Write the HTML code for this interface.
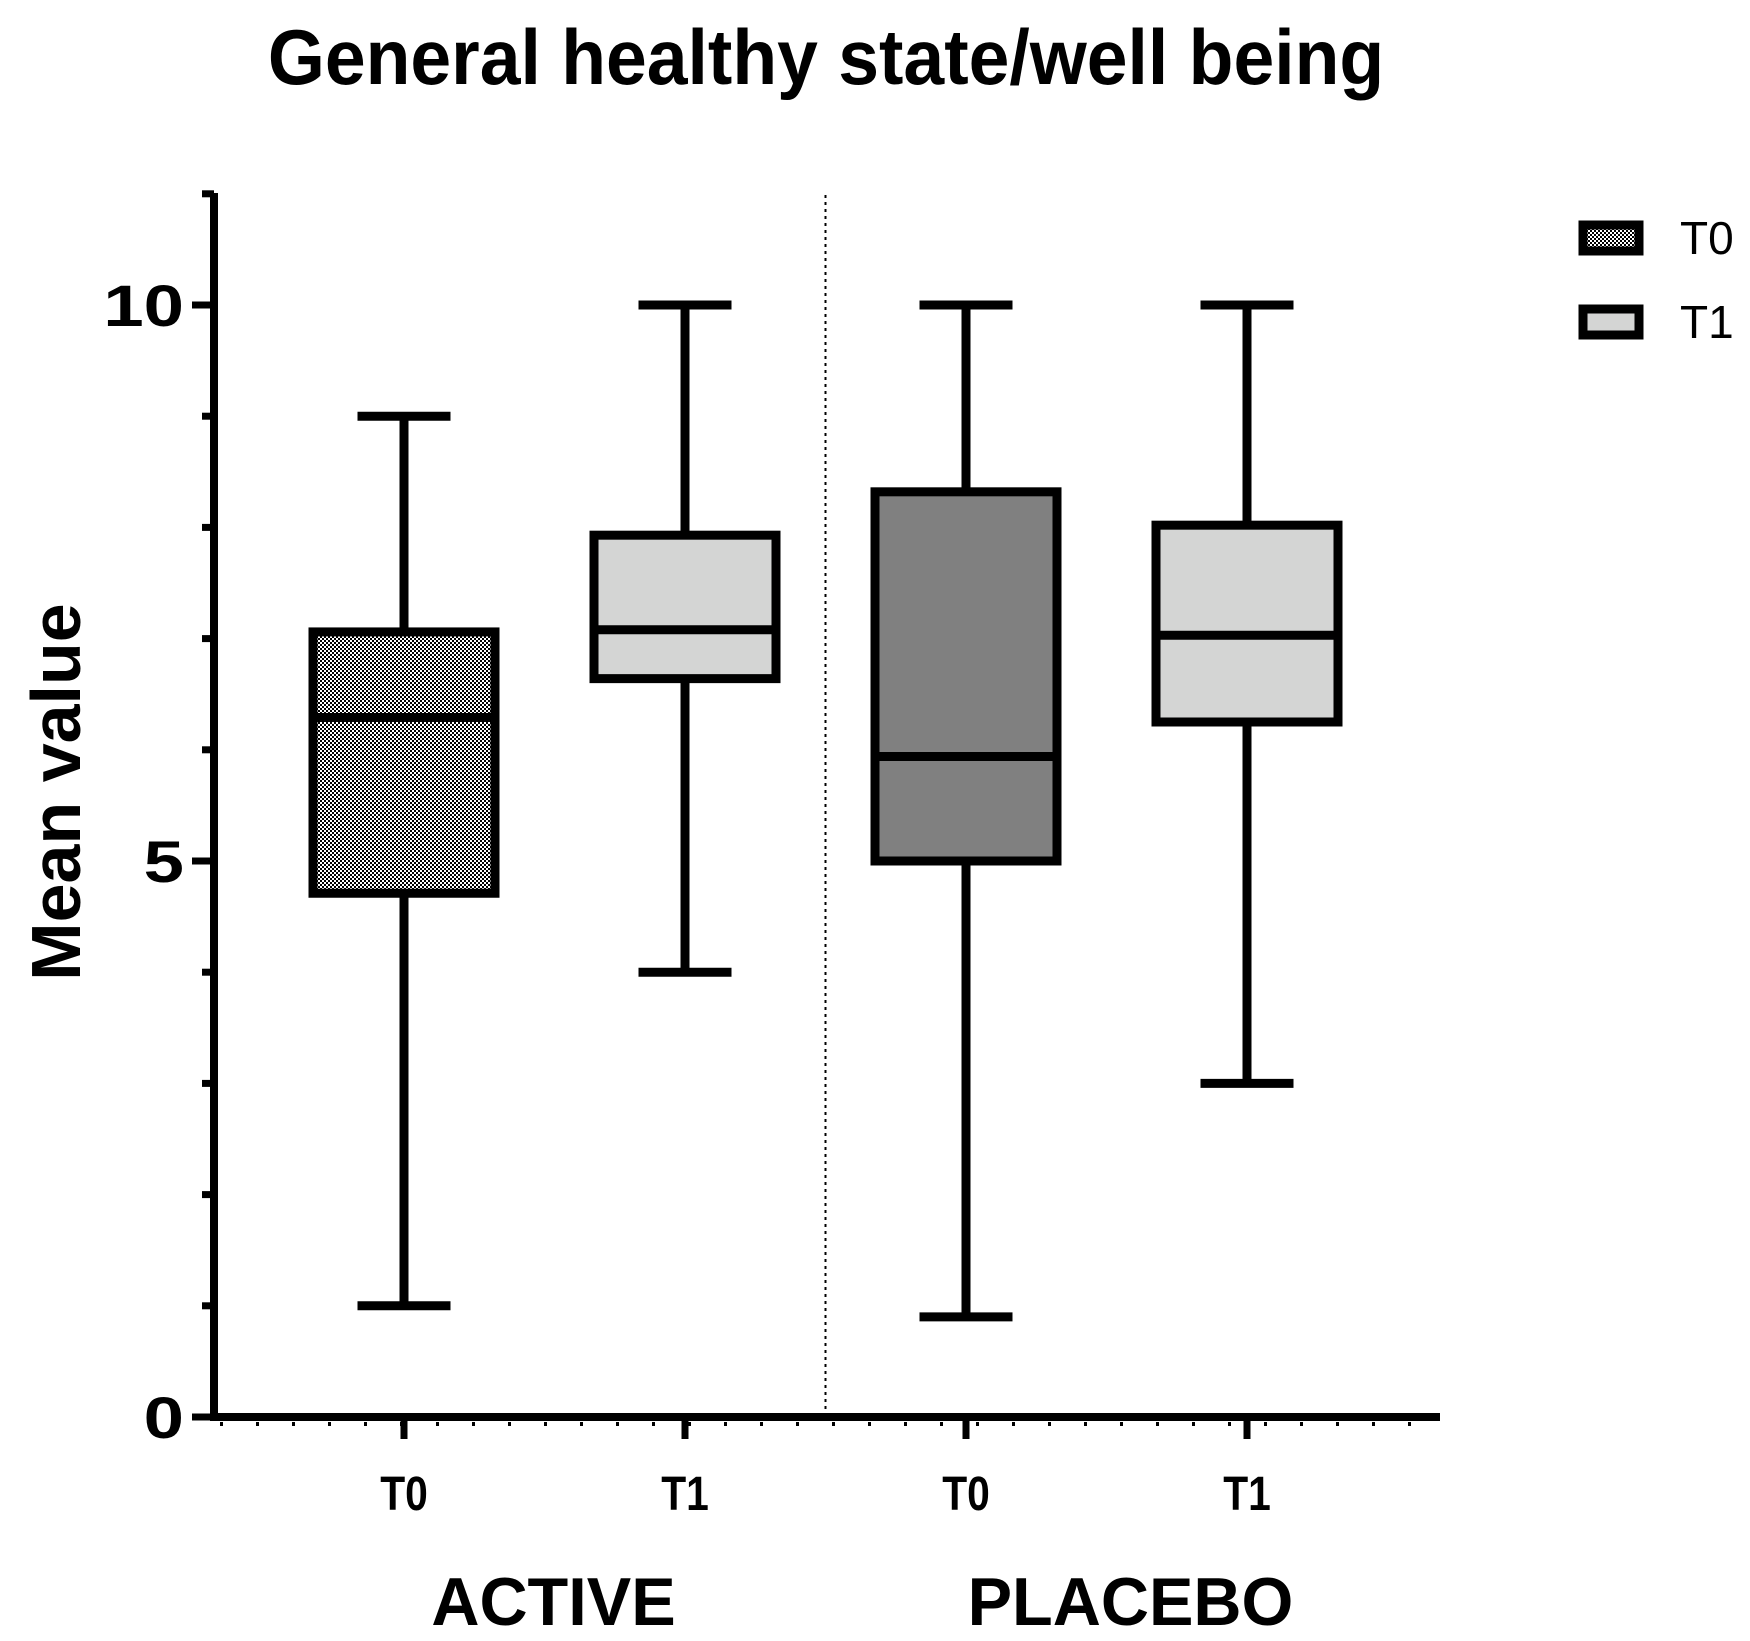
<!DOCTYPE html>
<html><head><meta charset="utf-8"><style>
html,body{margin:0;padding:0;background:#fff;}
svg{display:block;}
text{font-family:"Liberation Sans",Arial,sans-serif;fill:#000;}
</style></head><body>
<svg id="chart" width="1750" height="1641" viewBox="0 0 1750 1641" xmlns="http://www.w3.org/2000/svg">
<defs>
<pattern id="checker" width="4" height="4" patternUnits="userSpaceOnUse">
<rect width="4" height="4" fill="#fff"/><rect width="2" height="2" fill="#000"/><rect x="2" y="2" width="2" height="2" fill="#000"/>
</pattern>
</defs>
<text x="826" y="84" text-anchor="middle" font-size="78" font-weight="bold" transform="translate(826 0) scale(0.94 1) translate(-826 0)">General healthy state/well being</text>
<text transform="translate(80 792) rotate(-90) scale(1.0 1)" text-anchor="middle" font-size="70" font-weight="bold">Mean value</text>
<g id="plot"></g>
<g>
<rect x="1583" y="225" width="56" height="26" fill="url(#checker)" stroke="#000" stroke-width="9"/>
<text x="1680" y="254" font-size="46">T0</text>
<rect x="1583" y="309" width="56" height="26" fill="#d4d5d4" stroke="#000" stroke-width="9"/>
<text x="1680" y="338" font-size="46">T1</text>
</g>
</svg>
<script>
const categories = ["T0","T1","T0","T1"];
const groups = ["ACTIVE","PLACEBO"];
const mins = [1, 4, 0.9, 3];
const q1s = [4.71, 6.64, 5.0, 6.25];
const medians = [6.29, 7.08, 5.94, 7.03];
const q3s = [7.06, 7.93, 8.32, 8.02];
const maxs = [9, 10, 10, 10];
const fills = ["url(#checker)", "#d4d5d4", "#808080", "#d4d5d4"];
const yTickLabels = ["0","5","10"];
const yTickValues = [0,5,10];

const NS = "http://www.w3.org/2000/svg";
const plot = document.getElementById("plot");
const x0 = 214, y0 = 1417, unit = 111.2;
const xEnd = 1440;
const catX = i => 404 + i * 281;
const y = v => y0 - v * unit;
function mk(tag, attrs, parent) {
  const e = document.createElementNS(NS, tag);
  for (const k in attrs) e.setAttribute(k, attrs[k]);
  (parent || plot).appendChild(e);
  return e;
}
let div = mk("line", {x1: (catX(1)+catX(2))/2, x2: (catX(1)+catX(2))/2, y1: 195, y2: y0, stroke: "#000", "stroke-width": 2, "stroke-dasharray": "3 4"});


let ya = mk("line", {x1: x0, x2: x0, y1: 193, y2: y0 + 4, stroke: "#000", "stroke-width": 8});


for (let v = 0; v <= 11; v++) {
  const major = v % 5 === 0;
  let t = mk("line", {x1: x0 - (major ? 22 : 12), x2: x0, y1: y(v), y2: y(v), stroke: "#000", "stroke-width": 7});
  
  
}
yTickValues.forEach((v, i) => {
  let t = mk("text", {x: 0, y: 0, "text-anchor": "end", "font-size": 58, "font-weight": "bold", transform: `translate(184 ${y(v) + 21}) scale(1.25 1)`});
  t.textContent = yTickLabels[i];
  
  
});
let xa = mk("line", {x1: x0 - 4, x2: xEnd, y1: y0, y2: y0, stroke: "#000", "stroke-width": 8});


let dots = mk("line", {x1: x0 + 6, x2: xEnd, y1: y0 + 7, y2: y0 + 7, stroke: "#000", "stroke-width": 4, "stroke-dasharray": "3 33"});


categories.forEach((c, i) => {
  const cx = catX(i);
  let t = mk("line", {x1: cx, x2: cx, y1: y0, y2: y0 + 22, stroke: "#000", "stroke-width": 7});
  
  
  let lb = mk("text", {x: cx, y: 1510, "text-anchor": "middle", "font-size": 48, "font-weight": "bold", transform: `translate(${cx} 0) scale(0.85 1) translate(${-cx} 0)`});
  lb.textContent = c;
  
  
});
groups.forEach((g, gi) => {
  const gx = (catX(gi*2) + catX(gi*2+1)) / 2 + 9 + gi * 15;
  let t = mk("text", {x: gx, y: 1625, "text-anchor": "middle", "font-size": 68, "font-weight": "bold", transform: `translate(${gx} 0) scale(0.98 1) translate(${-gx} 0)`});
  t.textContent = g;
  
  
});
const bw = 182, cw = 93, sw = 9;
categories.forEach((c, i) => {
  const cx = catX(i);
  const g = mk("g", {});
  
  
  mk("line", {x1: cx, x2: cx, y1: y(mins[i]), y2: y(maxs[i]), stroke: "#000", "stroke-width": sw}, g);
  mk("line", {x1: cx - cw/2, x2: cx + cw/2, y1: y(mins[i]), y2: y(mins[i]), stroke: "#000", "stroke-width": sw}, g);
  mk("line", {x1: cx - cw/2, x2: cx + cw/2, y1: y(maxs[i]), y2: y(maxs[i]), stroke: "#000", "stroke-width": sw}, g);
  mk("rect", {x: cx - bw/2, y: y(q3s[i]), width: bw, height: y(q1s[i]) - y(q3s[i]), fill: fills[i], stroke: "#000", "stroke-width": sw}, g);
  mk("line", {x1: cx - bw/2, x2: cx + bw/2, y1: y(medians[i]), y2: y(medians[i]), stroke: "#000", "stroke-width": sw}, g);
});
</script>
</body></html>
